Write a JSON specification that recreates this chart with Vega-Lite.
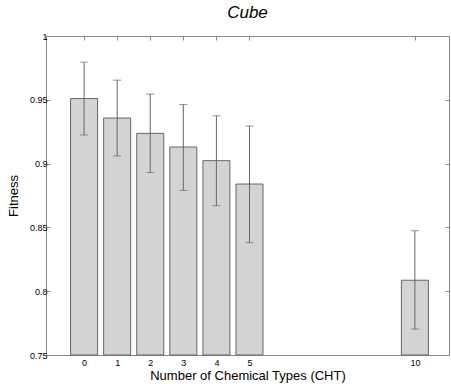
{
  "$schema": "https://vega.github.io/schema/vega-lite/v6.json",
  "autosize": "none",
  "padding": {"left": 46, "top": 36, "right": 2, "bottom": 29},
  "width": 403,
  "height": 319,
  "title": {"text": "Cube", "fontStyle": "italic", "fontWeight": "normal", "fontSize": 17, "font": "Liberation Sans", "color": "#000", "offset": 10},
  "config": {
    "view": {"stroke": "#888", "strokeWidth": 1},
    "axis": {"grid": false, "domainColor": "#888", "tickColor": "#888", "labelFont": "Liberation Sans", "labelFontSize": 9, "labelColor": "#000", "titleFont": "Liberation Sans", "titleFontSize": 13, "titleFontWeight": "normal", "titleColor": "#000"}
  },
  "data": {"values": [
    {"cht": 0, "mean": 0.951, "lo": 0.9224, "hi": 0.9795},
    {"cht": 1, "mean": 0.9357, "lo": 0.906, "hi": 0.9654},
    {"cht": 2, "mean": 0.9237, "lo": 0.893, "hi": 0.9545},
    {"cht": 3, "mean": 0.913, "lo": 0.879, "hi": 0.9463},
    {"cht": 4, "mean": 0.9023, "lo": 0.867, "hi": 0.9375},
    {"cht": 5, "mean": 0.884, "lo": 0.838, "hi": 0.9295},
    {"cht": 10, "mean": 0.8086, "lo": 0.7703, "hi": 0.8474}
  ]},
  "layer": [
    {
      "mark": {"type": "bar", "width": 27, "fill": "#d3d3d3", "stroke": "#666", "strokeWidth": 1},
      "encoding": {
        "x": {"field": "cht", "type": "quantitative", "scale": {"domain": [-1, 10.88], "nice": false, "zero": false},
          "axis": {"values": [0,1,2,3,4,5,10], "title": "Number of Chemical Types (CHT)", "tickSize": -4, "labelPadding": 7, "titlePadding": 2, "domain": false}},
        "y": {"field": "mean", "type": "quantitative", "scale": {"domain": [0.75, 1], "nice": false, "zero": false},
          "axis": {"values": [0.75,0.8,0.85,0.9,0.95,1], "format": "~g", "title": "Fitness", "tickSize": -4, "labelPadding": 3, "titlePadding": 9, "domain": false}},
        "y2": {"datum": 0.75}
      }
    },
    {
      "mark": {"type": "rule", "color": "#666", "strokeWidth": 1},
      "encoding": {
        "x": {"field": "cht", "type": "quantitative", "axis": {"orient": "top", "values": [0,1,2,3,4,5,10], "labels": false, "title": null, "tickSize": -4, "domain": false}},
        "y": {"field": "lo", "type": "quantitative", "axis": {"orient": "right", "values": [0.75,0.8,0.85,0.9,0.95,1], "labels": false, "title": null, "tickSize": -4, "domain": false}},
        "y2": {"field": "hi"}
      }
    },
    {
      "mark": {"type": "tick", "orient": "horizontal", "color": "#666", "size": 8, "thickness": 1},
      "encoding": {
        "x": {"field": "cht", "type": "quantitative", "axis": null},
        "y": {"field": "lo", "type": "quantitative", "axis": null}
      }
    },
    {
      "mark": {"type": "tick", "orient": "horizontal", "color": "#666", "size": 8, "thickness": 1},
      "encoding": {
        "x": {"field": "cht", "type": "quantitative", "axis": null},
        "y": {"field": "hi", "type": "quantitative", "axis": null}
      }
    }
  ],
  "resolve": {"axis": {"x": "independent", "y": "independent"}}
}
